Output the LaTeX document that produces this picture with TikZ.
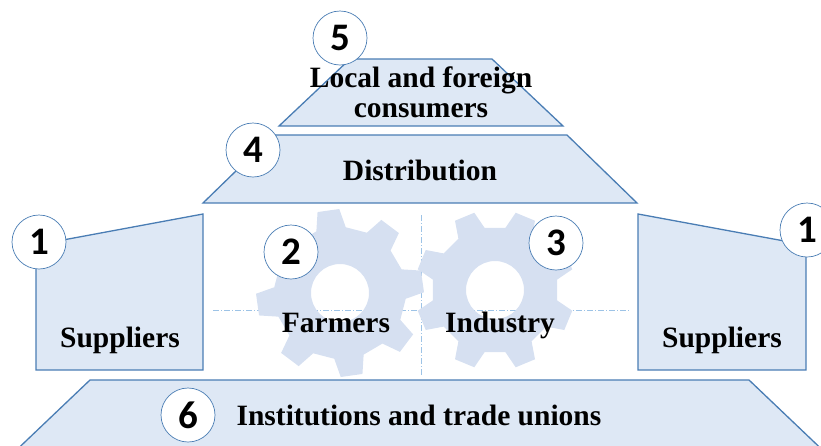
\documentclass[tikz,border=0pt]{standalone}
\usepackage{fontspec}
\setmainfont{Liberation Serif}
\newfontfamily\numfont{Carlito}
\definecolor{boxfill}{HTML}{DEE8F5}
\definecolor{boxline}{HTML}{4A7DB4}
\definecolor{gearfill}{HTML}{D6E0F1}
\definecolor{guideline}{HTML}{9DC3E6}

\begin{document}
\begin{tikzpicture}[x=1pt,y=-1pt,
    layer/.style={draw=boxline, fill=boxfill, line width=1.3pt, line join=miter},
    label/.style={font=\fontsize{29.5}{30}\selectfont\bfseries, inner sep=0pt, anchor=base, align=center},
    numcirc/.style={circle, draw=boxline, fill=white, line width=0.7pt, minimum size=54pt, inner sep=0pt, font=\numfont\fontsize{39}{39}\selectfont\bfseries},
    guide/.style={draw=guideline, line width=0.8pt, dash pattern=on 6pt off 2pt on 1pt off 2pt},
    gear/.style={fill=gearfill, even odd rule}]
    \useasboundingbox (0,0) rectangle (821,445);

    % guide lines behind the gears
    \coordinate (hl) at (213,310);
    \coordinate (hr) at (630,310);
    \coordinate (vt) at (421,215);
    \coordinate (vb) at (421,376);
    \draw[guide] (hl) -- (hr);
    \draw[guide] (vt) -- (vb);

    % two gears, 8 teeth each
    \coordinate (g1) at (340,293);
    \coordinate (g2) at (495,290);
    \fill[gear] ([shift={(g1)}]37-13:66)
      \foreach \a in {0,45,...,315} {
        -- ([shift={(g1)}]\a+37-13:66) -- ([shift={(g1)}]\a+37-7.5:84)
        -- ([shift={(g1)}]\a+37+7.5:84) -- ([shift={(g1)}]\a+37+13:66)
      } -- cycle (g1) circle (29);
    \fill[gear] ([shift={(g2)}]22.5-13:63)
      \foreach \a in {0,45,...,315} {
        -- ([shift={(g2)}]\a+22.5-13:63) -- ([shift={(g2)}]\a+22.5-7.5:80)
        -- ([shift={(g2)}]\a+22.5+7.5:80) -- ([shift={(g2)}]\a+22.5+13:63)
      } -- cycle (g2) circle (29);

    % stacked trapezoids
    \draw[layer] (350,59) -- (492,59) -- (563,126) -- (279,126) -- cycle;
    \draw[layer] (273,135) -- (567,135) -- (637,203) -- (203,203) -- cycle;
    \begin{scope}
      \clip (0,0) rectangle (821,445);
      \draw[layer] (90,380) -- (749,380) -- (833,460) -- (6,460) -- cycle;
    \end{scope}

    % supplier blocks
    \draw[layer] (36,245) -- (203,214) -- (203,370) -- (36,370) -- cycle;
    \draw[layer] (638,214) -- (806,245) -- (806,370) -- (638,370) -- cycle;

    % labels
    \node[label] (consumers) at (421,117) {Local and foreign\\consumers};
    \node[label] (distribution) at (420,180) {Distribution};
    \node[label] (supleft) at (120,347) {Suppliers};
    \node[label] (supright) at (722,347) {Suppliers};
    \node[label] (farmers) at (336,332) {Farmers};
    \node[label] (industry) at (500,332) {Industry};
    \node[label] (institutions) at (419,425) {Institutions and trade unions};

    % numbered circles
    \node[numcirc] (n1l) at (39,242) {1};
    \node[numcirc] (n1r) at (807,230) {1};
    \node[numcirc] (n2) at (291,252) {2};
    \node[numcirc] (n3) at (556,243) {3};
    \node[numcirc] (n4) at (253,150) {4};
    \node[numcirc] (n5) at (340,38) {5};
    \node[numcirc] (n6) at (188,415) {6};
\end{tikzpicture}
\end{document}
